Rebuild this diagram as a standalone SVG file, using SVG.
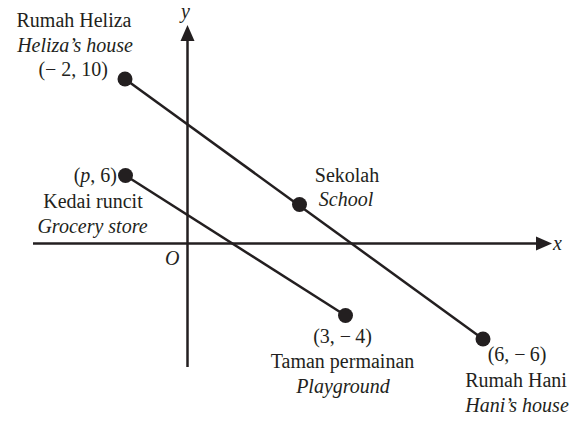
<svg xmlns="http://www.w3.org/2000/svg" width="576" height="421" viewBox="0 0 576 421" font-family="'Liberation Serif', 'Times New Roman', serif" font-size="20">
<defs>
<style>
text{fill:#231f20}
.i{font-style:italic}
.c{text-anchor:middle}
.e{text-anchor:end}
.ax{stroke:#231f20;stroke-width:2.5;fill:none}
.ln{stroke:#231f20;stroke-width:2.5;fill:none}
.dot{fill:#231f20}
.ah{fill:#231f20}
</style>
</defs>
<rect width="576" height="421" fill="#fff"/>
<g id="axes">
<line class="ax" x1="33" y1="243.5" x2="538" y2="243.5"/>
<polygon class="ah" points="552,243.5 536,236.5 536,250.5"/>
<line class="ax" x1="187.5" y1="367" x2="187.5" y2="39"/>
<polygon class="ah" points="187.5,25 180.5,41 194.5,41"/>
<text class="i" x="553" y="250">x</text>
<text class="i" x="181" y="18">y</text>
<text class="i" x="165" y="265">O</text>
</g>
<g id="connectors">
<line class="ln" x1="125" y1="79" x2="483" y2="339"/>
<line class="ln" x1="125.5" y1="175.5" x2="345.5" y2="315.5"/>
</g>
<g id="heliza">
<circle class="dot" cx="125" cy="79" r="7.5"/>
<text class="c" x="74" y="27">Rumah Heliza</text>
<text class="c i" x="75" y="52">Heliza’s house</text>
<text class="e" x="108" y="76">(−<tspan dx="5">2</tspan>, 10)</text>
</g>
<g id="grocery">
<circle class="dot" cx="125.5" cy="175.5" r="7.5"/>
<text class="e" x="117" y="182">(<tspan class="i">p</tspan>, 6)</text>
<text class="c" x="93" y="208">Kedai runcit</text>
<text class="c i" x="92.5" y="233">Grocery store</text>
</g>
<g id="school">
<circle class="dot" cx="299.5" cy="204.5" r="7.5"/>
<text class="c" x="347" y="182">Sekolah</text>
<text class="c i" x="346" y="206">School</text>
</g>
<g id="playground">
<circle class="dot" cx="345.5" cy="315.5" r="7.5"/>
<text class="c" x="342.5" y="343">(3, −<tspan dx="4">4</tspan>)</text>
<text class="c" x="342.5" y="368">Taman permainan</text>
<text class="c i" x="343" y="393">Playground</text>
</g>
<g id="hani">
<circle class="dot" cx="483" cy="339" r="7.5"/>
<text class="c" x="517" y="361">(6, −<tspan dx="4">6</tspan>)</text>
<text class="c" x="516" y="387">Rumah Hani</text>
<text class="c i" x="517" y="412">Hani’s house</text>
</g>
</svg>
